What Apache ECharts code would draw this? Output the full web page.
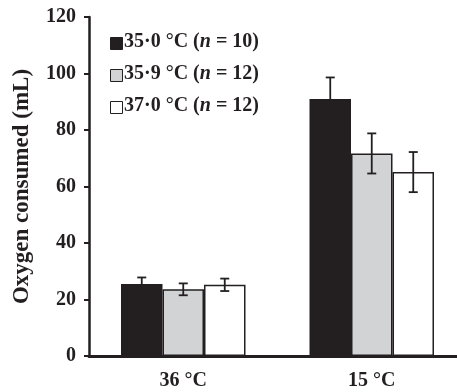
<!DOCTYPE html>
<html><head><meta charset="utf-8">
<script src="https://cdn.jsdelivr.net/npm/echarts@6/dist/echarts.min.js"></script>
<style>html,body{margin:0;padding:0;background:#fff}#c{width:457px;height:392px}</style>
</head><body><div id="c"></div>
<script>
const categories = ['36 °C', '15 °C'];
const seriesNames = ['35·0 °C (n = 10)', '35·9 °C (n = 12)', '37·0 °C (n = 12)'];
const legendLabels = [['35·0 °C (', 'n', ' = 10)'], ['35·9 °C (', 'n', ' = 12)'], ['37·0 °C (', 'n', ' = 12)']];
const means = [[25.5, 91.0], [23.6, 71.7], [25.2, 65.1]];
const errors = [[2.3, 7.6], [2.1, 7.1], [2.2, 7.1]];
const yTicks = [0, 20, 40, 60, 80, 100, 120];

const colors = ['#231f20', '#d1d3d4', '#ffffff'];
const FONT = 'Liberation Serif';
const barW = 41.5;
const chart = echarts.init(document.getElementById('c'));
const series = [];
seriesNames.forEach((name, i) => {
  series.push({
    name, type: 'bar', barWidth: barW, barGap: 0, data: means[i],
    itemStyle: { color: colors[i], borderColor: '#231f20', borderWidth: 1.5 },
    animation: false
  });
});
seriesNames.forEach((name, i) => {
  series.push({
    type: 'custom', silent: true, animation: false, z: 5,
    data: means[i].map((m, j) => [j, m, errors[i][j]]),
    renderItem: (params, api) => {
      const j = api.value(0), m = api.value(1), e = api.value(2);
      const x = api.coord([j, m])[0] + (i - 1) * barW;
      const yt = api.coord([j, m + e])[1];
      const yb = api.coord([j, m - e])[1];
      const cap = 4.5;
      const st = { stroke: '#231f20', lineWidth: 1.8 };
      return { type: 'group', children: [
        { type: 'line', shape: { x1: x, y1: yt, x2: x, y2: yb }, style: st },
        { type: 'line', shape: { x1: x - cap, y1: yt, x2: x + cap, y2: yt }, style: st },
        { type: 'line', shape: { x1: x - cap, y1: yb, x2: x + cap, y2: yb }, style: st }
      ]};
    }
  });
});
const legendGraphics = [];
legendLabels.forEach((parts, i) => {
  const y = 43 + i * 32;
  legendGraphics.push({ type: 'rect', left: 110, top: y - 6, shape: { width: 12, height: 12 },
    style: { fill: colors[i], stroke: '#231f20', lineWidth: 1 } });
  legendGraphics.push({ type: 'text', left: 124, top: y - 11,
    style: { text: '{a|' + parts[0] + '}{b|' + parts[1] + '}{a|' + parts[2] + '}',
      rich: { a: { fontFamily: FONT, fontWeight: 'bold', fontSize: 20, fill: '#231f20' },
              b: { fontFamily: FONT, fontWeight: 'bold', fontStyle: 'italic', fontSize: 20, fill: '#231f20' } } } });
});
chart.setOption({
  animation: false,
  grid: { left: 89, top: 17, width: 377, height: 339, outerBoundsMode: 'none', containLabel: false },
  xAxis: { type: 'category', data: categories,
    axisLine: { lineStyle: { color: '#231f20', width: 3 } },
    axisTick: { show: false },
    axisLabel: { fontFamily: FONT, fontWeight: 'bold', fontSize: 20, color: '#231f20', margin: 15 } },
  yAxis: { type: 'value', min: yTicks[0], max: yTicks[yTicks.length - 1], interval: 20,
    name: 'Oxygen consumed (mL)', nameLocation: 'middle', nameGap: 55,
    nameTextStyle: { fontFamily: FONT, fontWeight: 'bold', fontSize: 23, color: '#231f20' },
    splitLine: { show: false },
    axisLine: { show: true, lineStyle: { color: '#231f20', width: 2.5 } },
    axisTick: { show: true, length: 5, lineStyle: { color: '#231f20', width: 2 } },
    axisLabel: { fontFamily: FONT, fontWeight: 'bold', fontSize: 20, color: '#231f20', margin: 13 } },
  graphic: legendGraphics,
  series
});
</script></body></html>
